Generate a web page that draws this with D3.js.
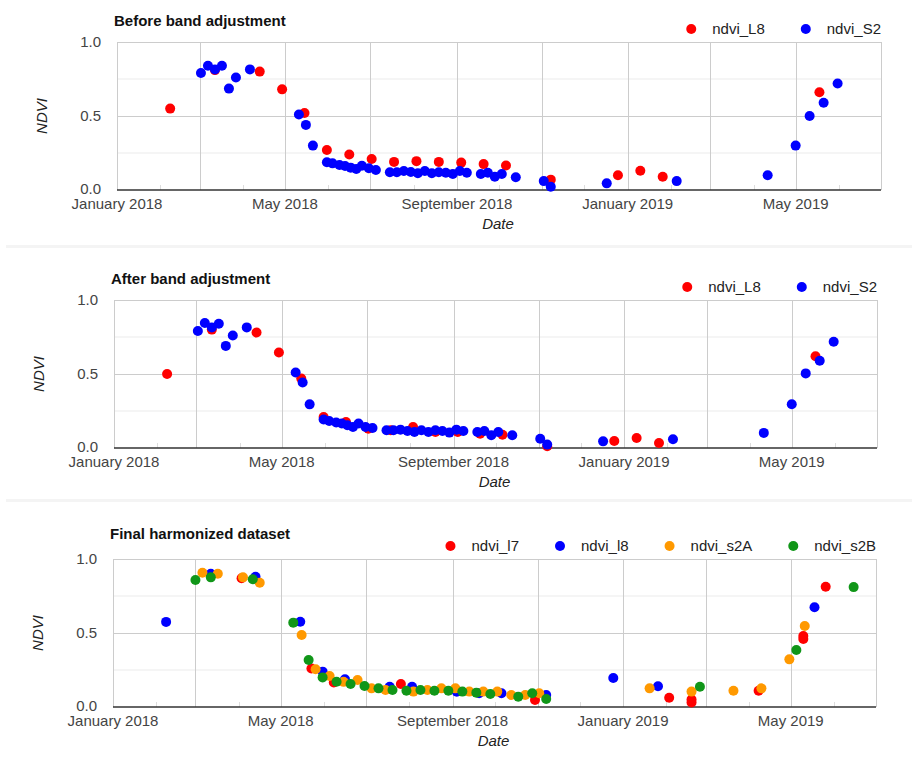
<!DOCTYPE html>
<html>
<head>
<meta charset="utf-8">
<script src="https://cdn.jsdelivr.net/npm/d3@7"></script>
<style>
body { margin: 0; background: #fff; }
text { font-family: "Liberation Sans", Arial, sans-serif; }
</style>
</head>
<body>
<div id="chart"></div>
<script>
// ---- data: [date, NDVI] ----
var before_L8 = [
    ["2018-02-08", 0.55], ["2018-03-12", 0.81], ["2018-04-13", 0.80], ["2018-04-29", 0.68],
    ["2018-05-15", 0.52], ["2018-05-31", 0.27], ["2018-06-16", 0.24], ["2018-07-02", 0.21],
    ["2018-07-18", 0.19], ["2018-08-03", 0.195], ["2018-08-19", 0.19], ["2018-09-04", 0.185],
    ["2018-09-20", 0.175], ["2018-10-06", 0.165], ["2018-11-07", 0.07], ["2018-12-25", 0.10],
    ["2019-01-10", 0.13], ["2019-01-26", 0.09], ["2019-05-18", 0.66]
];
var before_S2 = [
    ["2018-03-02", 0.79], ["2018-03-07", 0.84], ["2018-03-12", 0.815], ["2018-03-17", 0.84],
    ["2018-03-22", 0.685], ["2018-03-27", 0.76], ["2018-04-06", 0.815], ["2018-05-11", 0.51],
    ["2018-05-16", 0.44], ["2018-05-21", 0.30],
    ["2018-05-31", 0.187], ["2018-06-04", 0.18], ["2018-06-09", 0.169], ["2018-06-13", 0.162],
    ["2018-06-17", 0.151], ["2018-06-21", 0.142], ["2018-06-25", 0.164], ["2018-06-30", 0.147],
    ["2018-07-05", 0.135],
    ["2018-07-15", 0.12], ["2018-07-20", 0.12], ["2018-07-25", 0.128], ["2018-07-30", 0.122],
    ["2018-08-04", 0.113], ["2018-08-09", 0.128], ["2018-08-14", 0.113], ["2018-08-19", 0.12],
    ["2018-08-24", 0.117], ["2018-08-29", 0.108], ["2018-09-03", 0.128], ["2018-09-08", 0.117],
    ["2018-09-18", 0.108], ["2018-09-23", 0.117], ["2018-09-28", 0.09], ["2018-10-03", 0.108],
    ["2018-10-13", 0.086], ["2018-11-02", 0.06], ["2018-11-07", 0.022], ["2018-12-17", 0.045],
    ["2019-02-05", 0.06], ["2019-04-11", 0.10], ["2019-05-01", 0.30], ["2019-05-11", 0.50],
    ["2019-05-21", 0.59], ["2019-05-31", 0.72]
];

var after_L8 = [
    ["2018-02-08", 0.50], ["2018-03-12", 0.80], ["2018-04-13", 0.78], ["2018-04-29", 0.645],
    ["2018-05-15", 0.47], ["2018-05-31", 0.21], ["2018-06-16", 0.176], ["2018-07-02", 0.13],
    ["2018-07-18", 0.12], ["2018-08-03", 0.142], ["2018-08-19", 0.108], ["2018-09-04", 0.108],
    ["2018-09-20", 0.097], ["2018-10-06", 0.09], ["2018-11-07", 0.012], ["2018-12-25", 0.047],
    ["2019-01-10", 0.068], ["2019-01-26", 0.034], ["2019-05-18", 0.62]
];
var after_S2 = [
    ["2018-03-02", 0.79], ["2018-03-07", 0.845], ["2018-03-12", 0.815], ["2018-03-17", 0.84],
    ["2018-03-22", 0.69], ["2018-03-27", 0.76], ["2018-04-06", 0.815], ["2018-05-11", 0.51],
    ["2018-05-16", 0.443], ["2018-05-21", 0.295],
    ["2018-05-31", 0.192], ["2018-06-04", 0.183], ["2018-06-09", 0.172], ["2018-06-13", 0.165],
    ["2018-06-17", 0.154], ["2018-06-21", 0.142], ["2018-06-25", 0.165], ["2018-06-30", 0.142],
    ["2018-07-05", 0.135],
    ["2018-07-15", 0.12], ["2018-07-20", 0.12], ["2018-07-25", 0.124], ["2018-07-30", 0.115],
    ["2018-08-04", 0.108], ["2018-08-09", 0.12], ["2018-08-14", 0.108], ["2018-08-19", 0.12],
    ["2018-08-24", 0.115], ["2018-08-29", 0.104], ["2018-09-03", 0.124], ["2018-09-08", 0.115],
    ["2018-09-18", 0.108], ["2018-09-23", 0.115], ["2018-09-28", 0.086], ["2018-10-03", 0.108],
    ["2018-10-13", 0.086], ["2018-11-02", 0.063], ["2018-11-07", 0.023], ["2018-12-17", 0.045],
    ["2019-02-05", 0.059], ["2019-04-11", 0.102], ["2019-05-01", 0.296], ["2019-05-11", 0.504],
    ["2019-05-21", 0.589], ["2019-05-31", 0.718]
];

var final_l7 = [
    ["2018-04-03", 0.87], ["2018-05-23", 0.26], ["2018-06-08", 0.165], ["2018-07-26", 0.155],
    ["2018-10-30", 0.047], ["2019-02-03", 0.063], ["2019-02-19", 0.05], ["2019-02-19", 0.03],
    ["2019-04-08", 0.11], ["2019-05-10", 0.48], ["2019-05-10", 0.46], ["2019-05-26", 0.813]
];
var final_l8 = [
    ["2018-02-08", 0.575], ["2018-03-12", 0.90], ["2018-04-13", 0.88], ["2018-05-15", 0.576],
    ["2018-05-31", 0.239], ["2018-06-16", 0.187], ["2018-07-18", 0.137], ["2018-08-03", 0.137],
    ["2018-09-04", 0.103], ["2018-09-20", 0.093], ["2018-10-06", 0.093], ["2018-11-07", 0.081],
    ["2018-12-25", 0.196], ["2019-01-26", 0.14], ["2019-05-18", 0.674]
];
var final_s2A = [
    ["2018-03-06", 0.907], ["2018-03-17", 0.90], ["2018-04-04", 0.876], ["2018-04-16", 0.84],
    ["2018-05-16", 0.486], ["2018-05-26", 0.255], ["2018-06-05", 0.21], ["2018-06-15", 0.17],
    ["2018-06-25", 0.182], ["2018-07-05", 0.126], ["2018-07-15", 0.115], ["2018-08-04", 0.104],
    ["2018-08-14", 0.115], ["2018-08-24", 0.126], ["2018-09-03", 0.126], ["2018-09-13", 0.104],
    ["2018-09-23", 0.104], ["2018-10-03", 0.104], ["2018-10-13", 0.081], ["2018-10-23", 0.081],
    ["2018-11-02", 0.093], ["2019-01-20", 0.126], ["2019-02-19", 0.104], ["2019-03-21", 0.11],
    ["2019-04-10", 0.126], ["2019-04-30", 0.322], ["2019-05-11", 0.547]
];
var final_s2B = [
    ["2018-03-01", 0.858], ["2018-03-12", 0.876], ["2018-04-11", 0.863], ["2018-05-10", 0.57],
    ["2018-05-21", 0.318], ["2018-05-31", 0.20], ["2018-06-10", 0.171], ["2018-06-20", 0.155],
    ["2018-06-30", 0.142], ["2018-07-10", 0.126], ["2018-07-20", 0.115], ["2018-07-30", 0.11],
    ["2018-08-09", 0.115], ["2018-08-19", 0.11], ["2018-08-29", 0.11], ["2018-09-08", 0.104],
    ["2018-09-18", 0.097], ["2018-09-28", 0.088], ["2018-10-18", 0.07], ["2018-10-28", 0.093],
    ["2018-11-07", 0.054], ["2019-02-25", 0.137], ["2019-05-05", 0.385], ["2019-06-15", 0.81]
];

var xDomain = ["2018-01-01", "2019-07-01"];
var xLabelDates = ["2018-01-01", "2018-05-01", "2018-09-01", "2019-01-01", "2019-05-01"];
var yMajor = [0, 0.5, 1.0];
var yMinor = [0.25, 0.75];

var parseDate = d3.timeParse("%Y-%m-%d"),
    formatMonth = d3.timeFormat("%B %Y"),
    formatY = d3.format(".1f");

var panels = [
    { title: "Before band adjustment", left: 117, top: 42, right: 881, bottom: 190, titleY: 26, legendY: 29,
      series: [{ name: "ndvi_L8", color: "#ff0000", data: before_L8 },
               { name: "ndvi_S2", color: "#0000ff", data: before_S2 }] },
    { title: "After band adjustment", left: 114, top: 300, right: 877, bottom: 448, titleY: 284, legendY: 287,
      series: [{ name: "ndvi_L8", color: "#ff0000", data: after_L8 },
               { name: "ndvi_S2", color: "#0000ff", data: after_S2 }] },
    { title: "Final harmonized dataset", left: 113, top: 559, right: 876, bottom: 707, titleY: 539, legendY: 546,
      series: [{ name: "ndvi_l7", color: "#ff0000", data: final_l7 },
               { name: "ndvi_l8", color: "#0000ff", data: final_l8 },
               { name: "ndvi_s2A", color: "#ff9900", data: final_s2A },
               { name: "ndvi_s2B", color: "#109618", data: final_s2B }] }
];

var svg = d3.select("#chart")
    .append("svg")
    .attr("width", 912)
    .attr("height", 758);

// faint separators between the three charts
[245, 499].forEach(function (y) {
    svg.append("rect")
        .attr("x", 6).attr("y", y)
        .attr("width", 906).attr("height", 3)
        .attr("fill", "#f4f4f4");
});

panels.forEach(function (p) {
    var x = d3.scaleTime()
        .domain(xDomain.map(parseDate))
        .range([p.left, p.right]);
    var y = d3.scaleLinear()
        .domain([0, 1])
        .range([p.bottom, p.top]);

    var g = svg.append("g");
    var months = d3.timeMonth.range(x.domain()[0], d3.timeDay.offset(x.domain()[1], 1));

    // minor horizontal gridlines
    g.selectAll(".ymin").data(yMinor).enter().append("line")
        .attr("x1", p.left).attr("x2", p.right)
        .attr("y1", function (d) { return y(d); })
        .attr("y2", function (d) { return y(d); })
        .attr("stroke", "#ebebeb");

    // major horizontal gridlines
    g.selectAll(".ymaj").data(yMajor.slice(1)).enter().append("line")
        .attr("x1", p.left).attr("x2", p.right)
        .attr("y1", function (d) { return Math.round(y(d)) + 0.5; })
        .attr("y2", function (d) { return Math.round(y(d)) + 0.5; })
        .attr("stroke", "#cccccc");

    // vertical gridlines every two months, short ticks between
    g.selectAll(".xg").data(months).enter().append("line")
        .attr("x1", function (d) { return Math.round(x(d)) + 0.5; })
        .attr("x2", function (d) { return Math.round(x(d)) + 0.5; })
        .attr("y1", function (d) { return d.getMonth() % 2 == 0 ? p.top : p.bottom - 5; })
        .attr("y2", p.bottom)
        .attr("stroke", function (d) { return d.getMonth() % 2 == 0 ? "#cccccc" : "#dddddd"; });

    // baseline
    g.append("line")
        .attr("x1", p.left).attr("x2", p.right)
        .attr("y1", y(0)).attr("y2", y(0))
        .attr("stroke", "#333333")
        .attr("stroke-width", 1.5);

    // points
    p.series.forEach(function (s) {
        g.append("g").selectAll("circle")
            .data(s.data)
            .enter().append("circle")
            .attr("cx", function (d) { return x(parseDate(d[0])); })
            .attr("cy", function (d) { return y(d[1]); })
            .attr("r", 5)
            .attr("fill", s.color);
    });

    // y labels
    g.selectAll(".yl").data(yMajor).enter().append("text")
        .attr("x", p.left - 16)
        .attr("y", function (d) { return y(d) - (d == 0 ? 1 : 0); })
        .attr("dy", "0.35em")
        .attr("text-anchor", "end")
        .attr("font-size", 15)
        .attr("fill", "#444")
        .text(function (d) { return formatY(d); });

    // x labels
    g.selectAll(".xl").data(xLabelDates).enter().append("text")
        .attr("x", function (d) { return x(parseDate(d)); })
        .attr("y", p.bottom + 19)
        .attr("text-anchor", "middle")
        .attr("font-size", 15)
        .attr("fill", "#444")
        .text(function (d) { return formatMonth(parseDate(d)); });

    // axis titles
    g.append("text")
        .attr("x", (p.left + p.right) / 2 - 1)
        .attr("y", p.bottom + 39)
        .attr("text-anchor", "middle")
        .attr("font-size", 15)
        .attr("font-style", "italic")
        .attr("fill", "#222")
        .text("Date");

    g.append("text")
        .attr("transform", "translate(" + (p.left - 75) + "," + ((p.top + p.bottom) / 2) + ") rotate(-90)")
        .attr("dy", "0.35em")
        .attr("text-anchor", "middle")
        .attr("font-size", 15)
        .attr("font-style", "italic")
        .attr("fill", "#222")
        .text("NDVI");

    // title
    g.append("text")
        .attr("x", p.left - 3)
        .attr("y", p.titleY)
        .attr("font-size", 15)
        .attr("font-weight", "bold")
        .attr("fill", "#111")
        .text(p.title);

    // legend, right aligned with the plot
    var lx = p.right;
    p.series.slice().reverse().forEach(function (s) {
        var t = g.append("text")
            .attr("x", lx)
            .attr("y", p.legendY)
            .attr("dy", "0.35em")
            .attr("text-anchor", "end")
            .attr("font-size", 15)
            .attr("fill", "#222")
            .text(s.name);
        var w = t.node().getComputedTextLength();
        var dx = lx - w - 21;
        g.append("circle")
            .attr("cx", dx)
            .attr("cy", p.legendY)
            .attr("r", 5)
            .attr("fill", s.color);
        lx = dx - 41;
    });
});
</script>
</body>
</html>
